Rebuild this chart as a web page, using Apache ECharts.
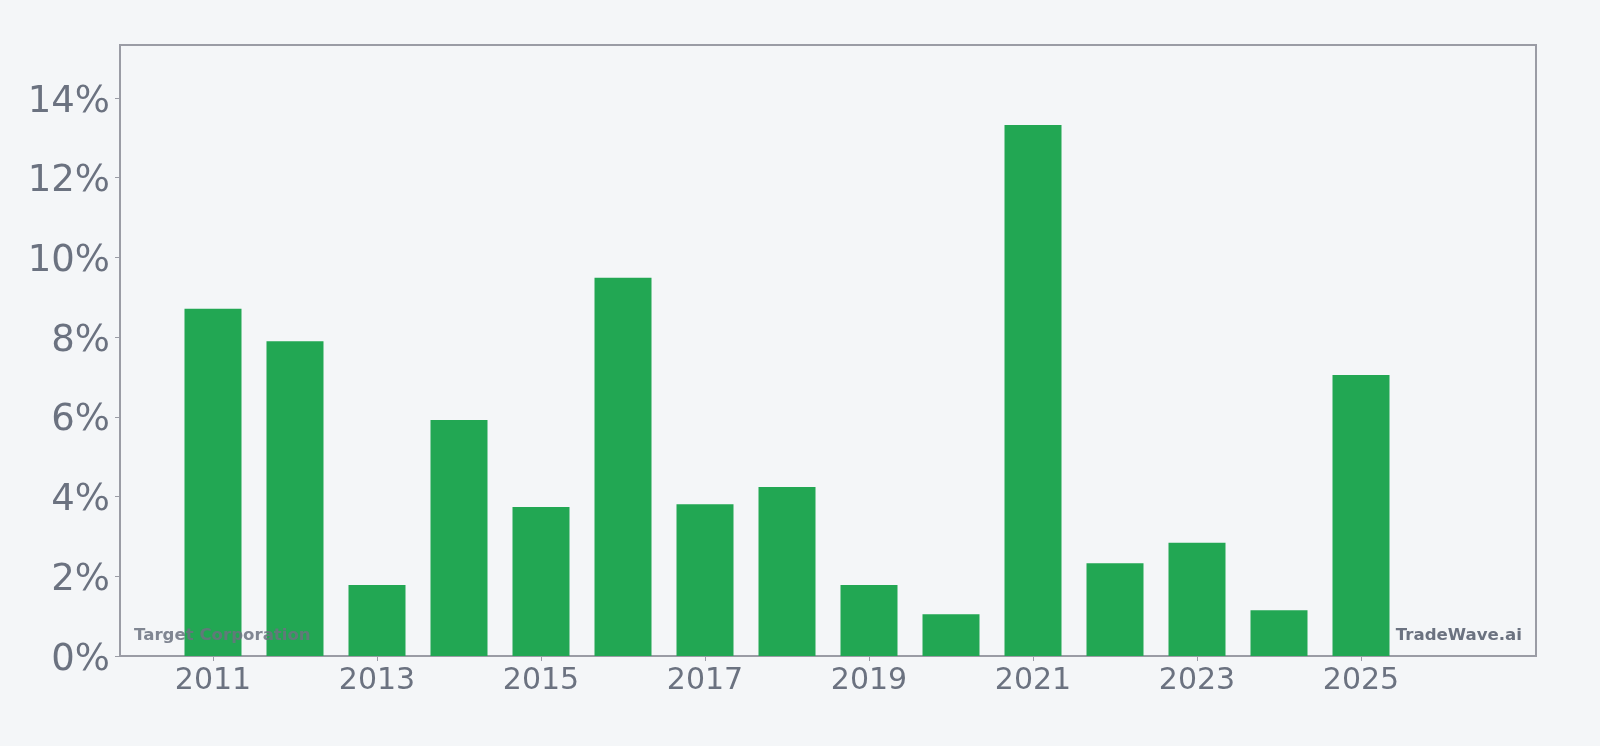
<!DOCTYPE html>
<html>
<head>
<meta charset="utf-8">
<script src="https://cdn.jsdelivr.net/npm/echarts@6/dist/echarts.min.js"></script>
<style>
html,body{margin:0;padding:0;background:#f4f6f8;}
#chart{width:1600px;height:746px;}
</style>
</head>
<body>
<div id="chart"></div>
<script>
const years = [2011,2012,2013,2014,2015,2016,2017,2018,2019,2020,2021,2022,2023,2024,2025];
const values = [8.71,7.90,1.78,5.92,3.74,9.49,3.81,4.24,1.78,1.05,13.32,2.33,2.84,1.15,7.05];
const xTickLabels = [2011,2013,2015,2017,2019,2021,2023,2025];
const yTickValues = [0,2,4,6,8,10,12,14];
const companyName = 'Target Corporation';
const brandName = 'TradeWave.ai';

const chart = echarts.init(document.getElementById('chart'), null, {renderer:'canvas'});
const font = 'DejaVu Sans';
const textColor = '#6b7280';
const axisColor = '#9a9ca5';

chart.setOption({
  backgroundColor:'#f4f6f8',
  animation:false,
  grid:{left:120,right:64,top:45,bottom:90,show:true,borderColor:axisColor,borderWidth:2,backgroundColor:'transparent'},
  xAxis:{
    type:'value',min:2009.866,max:2027.134,
    axisLine:{show:true,lineStyle:{color:axisColor,width:2}},
    axisTick:{show:true,length:5,customValues:xTickLabels,lineStyle:{color:axisColor}},
    axisLabel:{customValues:xTickLabels,color:textColor,fontFamily:font,fontSize:30,margin:10,formatter:v=>String(v)},
    splitLine:{show:false}
  },
  yAxis:{
    type:'value',min:0,max:15.33,
    axisLine:{show:true,lineStyle:{color:axisColor,width:2}},
    axisTick:{show:true,length:5,customValues:yTickValues,lineStyle:{color:axisColor}},
    axisLabel:{customValues:yTickValues,color:textColor,fontFamily:font,fontSize:37,margin:10,
      formatter:v=>'{a|'+v+'%}',
      rich:{a:{fontFamily:font,fontSize:37,color:textColor,padding:[8,0,0,0]}}},
    splitLine:{show:false}
  },
  series:[{
    type:'bar',
    data:years.map((y,i)=>[y,values[i]]),
    barWidth:57,
    itemStyle:{color:'#22a753'},
    z:2
  }],
  graphic:[
    {type:'text',left:134,top:627,z:100,style:{text:companyName,fill:textColor,opacity:0.85,font:'bold 16.6px "DejaVu Sans"'}},
    {type:'text',right:78,top:627,z:100,style:{text:brandName,fill:textColor,font:'bold 16.6px "DejaVu Sans"'}}
  ]
});
</script>
</body>
</html>
